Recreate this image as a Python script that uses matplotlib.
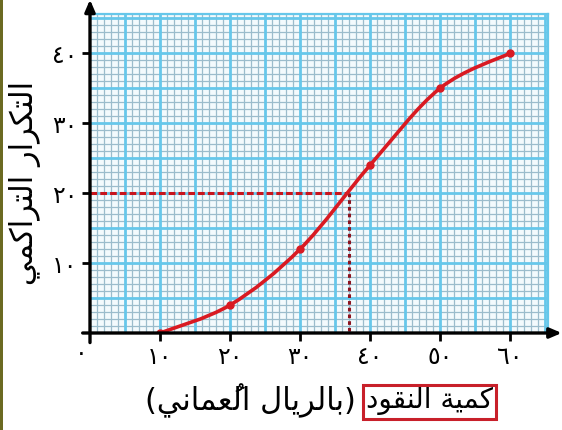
import numpy as np
import matplotlib
matplotlib.use("Agg")
import matplotlib.pyplot as plt
from matplotlib.path import Path
from matplotlib.patches import PathPatch, Rectangle

# data
money = [10, 20, 30, 40, 50, 60]
cum_freq = [0, 4, 12, 24, 35, 40]
median_y = 20
median_x = 37
x_ticks = [0, 10, 20, 30, 40, 50, 60]
x_tick_labels = ["٠", "١٠", "٢٠", "٣٠", "٤٠", "٥٠", "٦٠"]
y_ticks = [10, 20, 30, 40]
y_tick_labels = ["١٠", "٢٠", "٣٠", "٤٠"]
y_title = "التكرار التراكمي"
x_title_main = "كمية النقود"
x_title_unit = "بالريال العُماني"

# --- tiny arabic shaper (matplotlib has no complex text layout) ---
FORMS = {
  "ا": ("\uFE8D", "\uFE8E", None, None),
  "ب": ("\uFE8F", "\uFE90", "\uFE91", "\uFE92"),
  "ة": ("\uFE93", "\uFE94", None, None),
  "ت": ("\uFE95", "\uFE96", "\uFE97", "\uFE98"),
  "د": ("\uFEA9", "\uFEAA", None, None),
  "ر": ("\uFEAD", "\uFEAE", None, None),
  "ع": ("\uFEC9", "\uFECA", "\uFECB", "\uFECC"),
  "ق": ("\uFED5", "\uFED6", "\uFED7", "\uFED8"),
  "ك": ("\uFED9", "\uFEDA", "\uFEDB", "\uFEDC"),
  "ل": ("\uFEDD", "\uFEDE", "\uFEDF", "\uFEE0"),
  "م": ("\uFEE1", "\uFEE2", "\uFEE3", "\uFEE4"),
  "ن": ("\uFEE5", "\uFEE6", "\uFEE7", "\uFEE8"),
  "و": ("\uFEED", "\uFEEE", None, None),
  "ي": ("\uFEF1", "\uFEF2", "\uFEF3", "\uFEF4"),
}
MARKS = {"\u064F"}

def shape(text):
  # clusters: base letter + following marks
  clusters = []
  for ch in text:
    if ch in MARKS and clusters:
      clusters[-1][1].append(ch)
    else:
      clusters.append([ch, []])
  out = []
  for i, (ch, marks) in enumerate(clusters):
    if ch not in FORMS:
      out.append(ch + "".join(marks))
      continue
    prev = clusters[i - 1][0] if i > 0 else None
    nxt = clusters[i + 1][0] if i + 1 < len(clusters) else None
    join_prev = prev in FORMS and FORMS[prev][2] is not None
    join_next = nxt in FORMS and FORMS[ch][2] is not None
    iso, fin, ini, med = FORMS[ch]
    if join_prev and join_next:
      g = med
    elif join_prev:
      g = fin
    elif join_next:
      g = ini
    else:
      g = iso
    out.append(g + "".join(marks))
  return "".join(reversed(out))

# --- figure ---
fig = plt.figure(figsize=(5.62, 4.30), dpi=100)
ax = fig.add_axes([90 / 562, 1 - 333 / 430, 458 / 562, 319 / 430])
ax.set_xlim(0, 65.4)
ax.set_ylim(0, 45.6)
ax.set_facecolor("#f3fafd")

major_c = "#66c7ea"
minor_c = "#9bbccc"
for v in np.arange(1, 66):
  if v % 5:
    ax.axvline(v, color=minor_c, lw=0.9, zorder=1)
for v in np.arange(1, 46):
  if v % 5:
    ax.axhline(v, color=minor_c, lw=0.9, zorder=1)
for v in np.arange(5, 66, 5):
  ax.axvline(v, color=major_c, lw=2.0, zorder=2)
for v in np.arange(5, 46, 5):
  ax.axhline(v, color=major_c, lw=2.0, zorder=2)

for s in ["left", "bottom"]:
  ax.spines[s].set_visible(False)
for s in ["top", "right"]:
  ax.spines[s].set_color(major_c)
  ax.spines[s].set_linewidth(1.6)

# axes with arrows
ax.annotate("", xy=(0, 1.045), xytext=(0, -0.03), xycoords="axes fraction",
            arrowprops=dict(arrowstyle="-|>,head_length=0.7,head_width=0.3", color="black", lw=2.4,
                            shrinkA=0, shrinkB=0), zorder=6)
ax.annotate("", xy=(1.03, 0), xytext=(-0.016, 0), xycoords="axes fraction",
            arrowprops=dict(arrowstyle="-|>,head_length=0.7,head_width=0.3", color="black", lw=2.4,
                            shrinkA=0, shrinkB=0), zorder=6)

# ticks
ax.set_xticks(x_ticks[1:])
ax.set_xticklabels(x_tick_labels[1:], fontsize=17, family="DejaVu Sans")
ax.set_yticks(y_ticks)
ax.set_yticklabels(y_tick_labels, fontsize=17, family="DejaVu Sans")
ax.tick_params(which="major", length=6, width=2, color="black")
ax.tick_params(axis="x", pad=3)
ax.tick_params(axis="y", pad=3)
ax.text(-0.3, -1.2, x_tick_labels[0], fontsize=17, ha="right", va="top")

# dashed median guide
ax.plot([0, median_x], [median_y, median_y], color="#c8141c", lw=2.2,
        dashes=(2.2, 1.0), zorder=4)
ax.plot([median_x, median_x], [median_y, 0], color="#8c1420", lw=2.2,
        dashes=(1.2, 1.0), zorder=4)

# smooth ogive via catmull-rom -> bezier segments
pts = np.column_stack([money, cum_freq]).astype(float)
verts = [tuple(pts[0])]
codes = [Path.MOVETO]
n = len(pts)
for i in range(n - 1):
  p0 = pts[i - 1] if i > 0 else pts[i]
  p1 = pts[i]
  p2 = pts[i + 1]
  p3 = pts[i + 2] if i + 2 < n else pts[i + 1]
  c1 = p1 + (p2 - p0) / 6
  c2 = p2 - (p3 - p1) / 6
  verts += [tuple(c1), tuple(c2), tuple(p2)]
  codes += [Path.CURVE4] * 3
ax.add_patch(PathPatch(Path(verts, codes), facecolor="none", edgecolor="#d91a22",
                       lw=2.6, zorder=5, capstyle="round"))
ax.plot(money, cum_freq, "o", color="#d91a22", ms=5, zorder=5)

# titles
fig.text(25 / 562, 1 - 183 / 430, shape(y_title), rotation=90, fontsize=22,
         ha="center", va="center", family="DejaVu Sans")
fig.text(430 / 562, 1 - 401 / 430, shape(x_title_main), fontsize=20,
         ha="center", va="center", family="DejaVu Sans")
fig.text(356 / 562, 1 - 401 / 430, "(" + shape(x_title_unit) + ")", fontsize=22,
         ha="right", va="center", family="DejaVu Sans")
fig.patches.append(Rectangle((363 / 562, 1 - 419 / 430), 133 / 562, 34 / 430,
                             transform=fig.transFigure, fill=False,
                             edgecolor="#c8202a", lw=2.2))

# olive left border
fig.patches.append(Rectangle((0, 0), 3 / 562, 1, transform=fig.transFigure,
                             facecolor="#6b6a22", edgecolor="none"))

fig.savefig("out.png", dpi=100)
